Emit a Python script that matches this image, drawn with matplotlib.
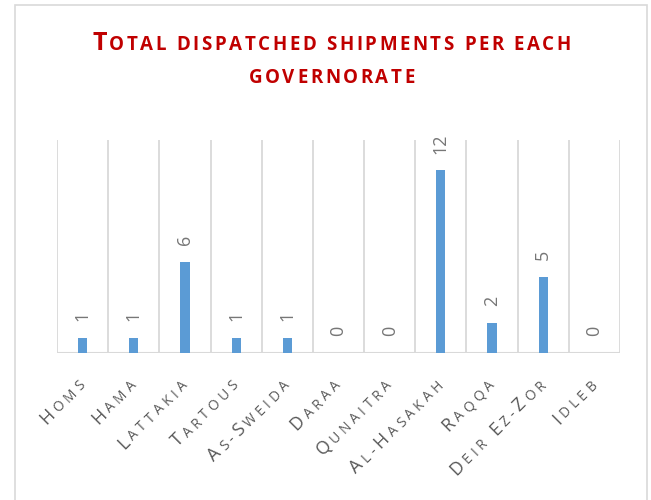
import numpy as np
import matplotlib
matplotlib.use("Agg")
import matplotlib.pyplot as plt
from matplotlib.font_manager import FontProperties
from matplotlib.transforms import IdentityTransform
from matplotlib.patches import Rectangle

categories = ["Homs", "Hama", "Lattakia", "Tartous", "As-Sweida", "Daraa",
              "Qunaitra", "Al-Hasakah", "Raqqa", "Deir Ez-Zor", "Idleb"]
values = [1, 1, 6, 1, 1, 0, 0, 12, 2, 5, 0]
title_lines = ["Total dispatched shipments per each", "governorate"]

W, H = 651, 500
DPI = 100
fig = plt.figure(figsize=(W / DPI, H / DPI), dpi=DPI)
fig.patch.set_facecolor("white")

# chart border
fig.add_artist(Rectangle((15 / W, -0.1), (647 - 15) / W, (H - 5) / H + 0.1,
                         transform=fig.transFigure, fill=False,
                         edgecolor="#D9D9D9", linewidth=1.2))

left, right, top, bottom = 57, 620, 140, 353
ax = fig.add_axes([left / W, (H - bottom) / H, (right - left) / W, (bottom - top) / H])
x = np.arange(len(categories))
ax.bar(x, values, width=0.18, color="#5B9BD5", zorder=3)
ax.set_xlim(-0.5, len(categories) - 0.5)
ax.set_ylim(0, 14)
for b in np.arange(-0.5, len(categories), 1.0):
    ax.axvline(b, color="#D9D9D9", linewidth=1.3, zorder=1)
ax.axhline(0, color="#D9D9D9", linewidth=2.2, zorder=2)
for s in ax.spines.values():
    s.set_visible(False)
ax.set_xticks([])
ax.set_yticks([])
ax.patch.set_alpha(0)

for xi, v in zip(x, values):
    ax.annotate(str(v), (xi, v), xytext=(0, 12), textcoords="offset points",
                rotation=90, ha="center", va="bottom", fontsize=13,
                color="#767676", family="Open Sans")

renderer = fig.canvas.get_renderer()


def smallcaps(text, anchor, angle, big, small, track, align, color, weight):
    """Place text char by char (small caps) in pixel coords (y from top)."""
    chars = []
    for ch in text:
        if ch.isupper():
            size = big
        else:
            size = small
        c = ch.upper()
        fp = FontProperties(family="Open Sans", size=size, weight=weight)
        if c == " ":
            w, _, _ = renderer.get_text_width_height_descent("a a", fp, ismath=False)
            w2, _, _ = renderer.get_text_width_height_descent("aa", fp, ismath=False)
            w = w - w2
        else:
            w, _, _ = renderer.get_text_width_height_descent(c, fp, ismath=False)
        chars.append((c, fp, w))
    total = sum(w for _, _, w in chars) + track * (len(chars) - 1)
    a = np.deg2rad(angle)
    d = np.array([np.cos(a), np.sin(a)])  # display coords, y up
    ax0 = np.array([anchor[0], H - anchor[1]], dtype=float)
    if align == "right":
        start = ax0 - d * total
    elif align == "center":
        start = ax0 - d * total / 2
    else:
        start = ax0
    pos = start.copy()
    for c, fp, w in chars:
        if c != " ":
            fig.text(pos[0], pos[1], c, transform=IdentityTransform(),
                     fontproperties=fp, rotation=angle, rotation_mode="anchor",
                     ha="left", va="baseline", color=color)
        pos = pos + d * (w + track)


# title
smallcaps(title_lines[0], (331.5, 50), 0, 18, 13.5, 2.6, "center", "#C00000", "bold")
smallcaps(title_lines[1], (331.5, 83), 0, 18, 13.5, 2.6, "center", "#C00000", "bold")

# category labels
for xi, cat in zip(x, categories):
    px = left + (xi + 0.5) * (right - left) / len(categories)
    smallcaps(cat, (px + 3, 386), 45, 13, 10, 3.9, "right", "#595959", "normal")

fig.savefig("out.png", dpi=DPI)
